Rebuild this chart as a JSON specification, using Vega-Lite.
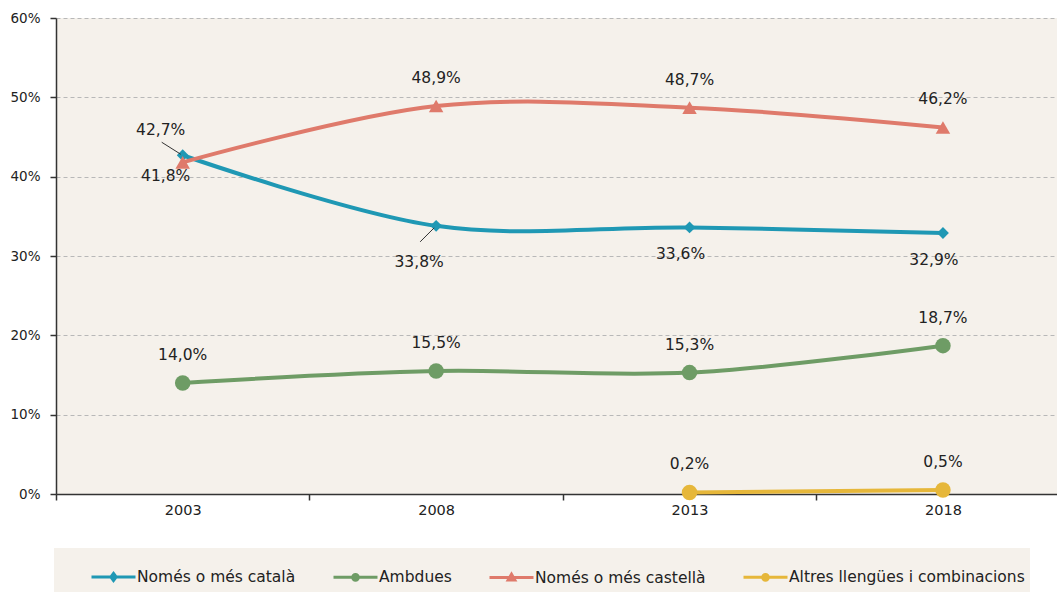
{
  "$schema": "https://vega.github.io/schema/vega-lite/v6.json",
  "width": 1001,
  "height": 476,
  "autosize": "none",
  "padding": {"left": 56, "top": 18, "right": 0, "bottom": 99},
  "background": "white",
  "config": {"view": {"fill": "#f5f1eb", "stroke": null}, "font": "DejaVu Sans"},
  "data": {"values": [
    {"series": "Només o més català", "year": 2003, "value": 42.7},
    {"series": "Només o més català", "year": 2008, "value": 33.8},
    {"series": "Només o més català", "year": 2013, "value": 33.6},
    {"series": "Només o més català", "year": 2018, "value": 32.9},
    {"series": "Ambdues", "year": 2003, "value": 14.0},
    {"series": "Ambdues", "year": 2008, "value": 15.5},
    {"series": "Ambdues", "year": 2013, "value": 15.3},
    {"series": "Ambdues", "year": 2018, "value": 18.7},
    {"series": "Només o més castellà", "year": 2003, "value": 41.8},
    {"series": "Només o més castellà", "year": 2008, "value": 48.9},
    {"series": "Només o més castellà", "year": 2013, "value": 48.7},
    {"series": "Només o més castellà", "year": 2018, "value": 46.2},
    {"series": "Altres llengües i combinacions", "year": 2013, "value": 0.2},
    {"series": "Altres llengües i combinacions", "year": 2018, "value": 0.5}
  ]},
  "encoding": {
    "x": {
      "field": "year", "type": "quantitative",
      "scale": {"domain": [2000.5, 2020.25], "nice": false, "zero": false},
      "axis": {
        "title": null,
        "values": [2000.5, 2003, 2005.5, 2008, 2010.5, 2013, 2015.5, 2018],
        "labelExpr": "datum.value % 1 == 0 ? '' + datum.value : ''",
        "labelFlush": false, "labelOverlap": false,
        "tickSize": 6, "tickColor": "#333", "tickWidth": 1.5,
        "tickOpacity": {"condition": {"test": "datum.value % 1 == 0", "value": 0}, "value": 1},
        "domainColor": "#333", "domainWidth": 1.5, "grid": false,
        "labelFontSize": 14.5, "labelColor": "#222", "labelPadding": 3
      }
    },
    "y": {
      "field": "value", "type": "quantitative",
      "scale": {"domain": [0, 60], "nice": false},
      "axis": {
        "title": null, "values": [0, 10, 20, 30, 40, 50, 60],
        "labelExpr": "datum.value + '%'",
        "tickSize": 6, "tickColor": "#333", "tickWidth": 1.5,
        "domainColor": "#333", "domainWidth": 1.5,
        "gridColor": "#b8b8b8", "gridDash": [4, 3], "gridWidth": 1,
        "labelFontSize": 13.5, "labelPadding": 10, "labelColor": "#222"
      }
    }
  },
  "layer": [
    {
      "mark": {"type": "line", "interpolate": "cardinal", "strokeWidth": 4},
      "encoding": {
        "color": {
          "field": "series", "type": "nominal",
          "scale": {
            "domain": ["Només o més català", "Ambdues", "Només o més castellà", "Altres llengües i combinacions"],
            "range": ["#1f98b4", "#6e9c65", "#df7a6b", "#e6b73a"]
          },
          "legend": {
            "orient": "none", "legendX": -2, "legendY": 530,
            "direction": "horizontal", "columns": 4,
            "title": " ", "titleOrient": "left", "titleFontSize": 1, "titlePadding": 31,
            "fillColor": "#f5f1eb", "padding": 5,
            "symbolSize": 1936, "symbolType": "M-1,0L1,0", "symbolStrokeWidth": 3,
            "labelFontSize": 15.5, "labelColor": "#222", "labelOffset": 0,
            "columnPadding": 31, "labelLimit": 400,
            "encode": {
              "symbols": {
                "update": {
                  "shape": {"signal": "datum.value == 'Només o més català' ? 'M-1,0L1,0M0,-0.16L0.12,0L0,0.16L-0.12,0Z' : datum.value == 'Només o més castellà' ? 'M-1,0L1,0M0,-0.15L0.15,0.11L-0.15,0.11Z' : 'M-1,0L1,0M0.13,0A0.13,0.13,0,1,1,-0.13,0A0.13,0.13,0,1,1,0.13,0Z'"},
                  "fill": {"signal": "scale('color', datum.value)"},
                  "stroke": {"signal": "scale('color', datum.value)"},
                  "strokeWidth": {"value": 3},
                  "size": {"value": 1936},
                  "opacity": {"value": 1}
                }
              }
            }
          }
        }
      }
    },
    {
      "transform": [{"filter": "datum.series == 'Només o més català'"}],
      "mark": {"type": "point", "filled": true, "opacity": 1, "shape": "diamond", "size": 140},
      "encoding": {"color": {"field": "series", "type": "nominal", "legend": null}}
    },
    {
      "transform": [{"filter": "datum.series == 'Ambdues' || datum.series == 'Altres llengües i combinacions'"}],
      "mark": {"type": "point", "filled": true, "opacity": 1, "shape": "circle", "size": 240},
      "encoding": {"color": {"field": "series", "type": "nominal", "legend": null}}
    },
    {
      "transform": [{"filter": "datum.series == 'Només o més castellà'"}],
      "mark": {"type": "point", "filled": true, "opacity": 1, "shape": "triangle-up", "size": 210},
      "encoding": {"color": {"field": "series", "type": "nominal", "legend": null}}
    },
    {
      "transform": [{"filter": "datum.series == 'Només o més català' && datum.year == 2003"}],
      "mark": {"type": "rule", "color": "#333", "strokeWidth": 1, "xOffset": -21, "yOffset": -13, "x2Offset": -2, "y2Offset": -1},
      "encoding": {"x2": {"field": "year"}, "y2": {"field": "value"}}
    },
    {
      "transform": [{"filter": "datum.series == 'Només o més català' && datum.year == 2008"}],
      "mark": {"type": "rule", "color": "#333", "strokeWidth": 1, "xOffset": -16, "yOffset": 16, "x2Offset": -2, "y2Offset": 2},
      "encoding": {"x2": {"field": "year"}, "y2": {"field": "value"}}
    },
    {
      "transform": [
        {"filter": "datum.series == 'Ambdues' || datum.series == 'Altres llengües i combinacions' || (datum.series == 'Només o més castellà' && datum.year != 2003)"},
        {"calculate": "replace(format(datum.value, '.1f'), '.', ',') + '%'", "as": "label"}
      ],
      "mark": {"type": "text", "fontSize": 15.5, "color": "#222", "baseline": "middle", "align": "center", "dy": -28},
      "encoding": {"text": {"field": "label", "type": "nominal"}}
    },
    {
      "transform": [
        {"filter": "datum.series == 'Només o més català' && datum.year >= 2013"},
        {"calculate": "replace(format(datum.value, '.1f'), '.', ',') + '%'", "as": "label"}
      ],
      "mark": {"type": "text", "fontSize": 15.5, "color": "#222", "baseline": "middle", "align": "center", "dx": -9, "dy": 27},
      "encoding": {"text": {"field": "label", "type": "nominal"}}
    },
    {
      "transform": [
        {"filter": "datum.series == 'Només o més català' && datum.year == 2008"},
        {"calculate": "replace(format(datum.value, '.1f'), '.', ',') + '%'", "as": "label"}
      ],
      "mark": {"type": "text", "fontSize": 15.5, "color": "#222", "baseline": "middle", "align": "center", "dx": -17, "dy": 36},
      "encoding": {"text": {"field": "label", "type": "nominal"}}
    },
    {
      "transform": [
        {"filter": "datum.series == 'Només o més català' && datum.year == 2003"},
        {"calculate": "replace(format(datum.value, '.1f'), '.', ',') + '%'", "as": "label"}
      ],
      "mark": {"type": "text", "fontSize": 15.5, "color": "#222", "baseline": "middle", "align": "center", "dx": -22, "dy": -25},
      "encoding": {"text": {"field": "label", "type": "nominal"}}
    },
    {
      "transform": [
        {"filter": "datum.series == 'Només o més castellà' && datum.year == 2003"},
        {"calculate": "replace(format(datum.value, '.1f'), '.', ',') + '%'", "as": "label"}
      ],
      "mark": {"type": "text", "fontSize": 15.5, "color": "#222", "baseline": "middle", "align": "center", "dx": -17, "dy": 14},
      "encoding": {"text": {"field": "label", "type": "nominal"}}
    }
  ]
}
